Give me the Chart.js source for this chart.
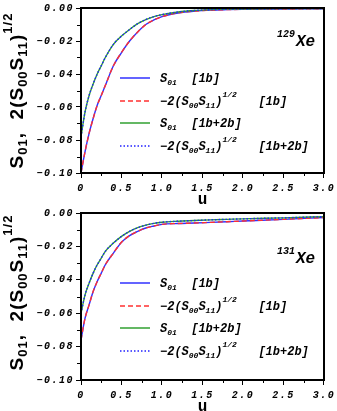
<!DOCTYPE html>
<html>
<head>
<meta charset="utf-8">
<script src="https://cdn.jsdelivr.net/npm/chart.js@4.4.0/dist/chart.umd.min.js"></script>
<style>
  html, body { margin: 0; padding: 0; background: #fff; }
  #wrap { position: relative; width: 337px; height: 411px; }
  canvas { position: absolute; left: 0; }
</style>
</head>
<body>
<div id="wrap">
  <canvas id="chartTop" width="337" height="205" style="top:0px"></canvas>
  <canvas id="chartBottom" width="337" height="206" style="top:205px"></canvas>
</div>
<script>
// momentum transfer u
const uValues = [0, 0.05, 0.1, 0.15, 0.2, 0.25, 0.3, 0.4, 0.5, 0.6, 0.7, 0.8, 0.9, 1.0, 1.2, 1.4, 1.6, 1.8, 2.0, 2.5, 3.0];

// 129Xe
const xe129S01_1b    = [-0.100, -0.087, -0.076, -0.067, -0.059, -0.053, -0.047, -0.035, -0.027, -0.020, -0.0145, -0.0100, -0.0072, -0.0052, -0.0030, -0.0019, -0.0013, -0.0010, -0.0008, -0.0006, -0.0005];
const xe129Sqrt_1b   = [-0.100, -0.087, -0.076, -0.067, -0.059, -0.053, -0.047, -0.035, -0.027, -0.020, -0.0145, -0.0100, -0.0072, -0.0052, -0.0030, -0.0019, -0.0013, -0.0010, -0.0008, -0.0006, -0.0005];
const xe129S01_12b   = [-0.078, -0.063, -0.053, -0.046, -0.040, -0.035, -0.030, -0.022, -0.017, -0.013, -0.0095, -0.0070, -0.0052, -0.0040, -0.0024, -0.0015, -0.0010, -0.0007, -0.0006, -0.0004, -0.0003];
const xe129Sqrt_12b  = [-0.078, -0.063, -0.053, -0.046, -0.040, -0.035, -0.030, -0.022, -0.017, -0.013, -0.0095, -0.0070, -0.0052, -0.0040, -0.0024, -0.0015, -0.0010, -0.0007, -0.0006, -0.0004, -0.0003];

// 131Xe
const xe131S01_1b    = [-0.076, -0.063, -0.055, -0.047, -0.041, -0.036, -0.031, -0.024, -0.0175, -0.0135, -0.0110, -0.0090, -0.0078, -0.0068, -0.0063, -0.0060, -0.0056, -0.0052, -0.0048, -0.0038, -0.0027];
const xe131Sqrt_1b   = [-0.076, -0.063, -0.055, -0.047, -0.041, -0.036, -0.031, -0.024, -0.0175, -0.0135, -0.0110, -0.0090, -0.0078, -0.0068, -0.0063, -0.0060, -0.0056, -0.0052, -0.0048, -0.0038, -0.0027];
const xe131S01_12b   = [-0.060, -0.049, -0.042, -0.036, -0.031, -0.027, -0.023, -0.018, -0.014, -0.011, -0.0088, -0.0073, -0.0062, -0.0055, -0.0049, -0.0045, -0.0041, -0.0038, -0.0035, -0.0029, -0.0022];
const xe131Sqrt_12b  = [-0.060, -0.049, -0.042, -0.036, -0.031, -0.027, -0.023, -0.018, -0.014, -0.011, -0.0088, -0.0073, -0.0062, -0.0055, -0.0049, -0.0045, -0.0041, -0.0038, -0.0035, -0.0029, -0.0022];

// axes
const yMin = -0.10, yMax = 0.00, yStep = 0.02, yMinorStep = 0.01;
const xMin = 0, xMax = 3.0, xStep = 0.5, xMinorStep = 0.25;

// legend texts (k: n = normal, sub, sup)
const legendLabels = [
  [{t: 'S'}, {t: '01', k: 'sub'}, {t: '  [1b]'}],
  [{t: '\u22122(S'}, {t: '00', k: 'sub'}, {t: 'S'}, {t: '11', k: 'sub'}, {t: ')'}, {t: '1/2', k: 'sup'}, {t: '   [1b]'}],
  [{t: 'S'}, {t: '01', k: 'sub'}, {t: '  [1b+2b]'}],
  [{t: '\u22122(S'}, {t: '00', k: 'sub'}, {t: 'S'}, {t: '11', k: 'sub'}, {t: ')'}, {t: '1/2', k: 'sup'}, {t: '   [1b+2b]'}]
];
const yTitle = [{t: 'S'}, {t: '01', k: 'sub'}, {t: ',  2(S'}, {t: '00', k: 'sub'}, {t: 'S'}, {t: '11', k: 'sub'}, {t: ')'}, {t: '1/2', k: 'sup'}];

const MONO = '"Liberation Mono", "Courier New", monospace';
const SANS = '"Liberation Sans", Arial, sans-serif';

function pts(ys) {
    return uValues.map((u, i) => ({x: u, y: ys[i]}));
}

function drawRich(ctx, parts, x, y, fonts) {
    for (const p of parts) {
        const f = fonts[p.k || 'n'];
        ctx.font = f.font;
        ctx.fillText(p.t, x, y + f.dy);
        x += ctx.measureText(p.t).width;
    }
    return x;
}
function richWidth(ctx, parts, fonts) {
    let w = 0;
    for (const p of parts) {
        ctx.font = fonts[p.k || 'n'].font;
        w += ctx.measureText(p.t).width;
    }
    return w;
}

const decorPlugin = {
    id: 'decor',
    beforeDraw(chart) {
        chart.ctx.letterSpacing = '1.5px';
    },
    afterDraw(chart, args, opts) {
        const ctx = chart.ctx;
        const a = chart.chartArea;
        const xs = chart.scales.x, ys = chart.scales.y;
        ctx.save();
        ctx.letterSpacing = '0px';
        ctx.strokeStyle = '#000';
        ctx.fillStyle = '#000';

        // minor ticks
        ctx.lineWidth = 1;
        ctx.beginPath();
        for (let v = yMin + yMinorStep; v < yMax; v += yStep) {
            const py = Math.round(ys.getPixelForValue(v)) + 0.5;
            ctx.moveTo(a.left - 4, py); ctx.lineTo(a.left, py);
        }
        for (let v = xMinorStep; v < xMax; v += xStep) {
            const px = Math.round(xs.getPixelForValue(v)) + 0.5;
            ctx.moveTo(px, a.bottom); ctx.lineTo(px, a.bottom + 3);
        }
        ctx.stroke();

        // frame
        ctx.lineWidth = 2;
        ctx.strokeRect(a.left, a.top, a.right - a.left, a.bottom - a.top);

        // legend, in dataset index order
        const lf = {
            n: {font: 'bold italic 12px ' + MONO, dy: 0},
            sub: {font: 'bold italic 8px ' + MONO, dy: 4},
            sup: {font: 'bold italic 8px ' + MONO, dy: -7}
        };
        ctx.textBaseline = 'middle';
        ctx.textAlign = 'left';
        chart.data.datasets.forEach((ds, i) => {
            const y = Math.round(a.top + 70 + i * 22.5);
            ctx.save();
            ctx.strokeStyle = ds.borderColor;
            ctx.lineWidth = 1.5;
            ctx.setLineDash(ds.borderDash || []);
            ctx.beginPath();
            ctx.moveTo(120, y);
            ctx.lineTo(150, y);
            ctx.stroke();
            ctx.restore();
            drawRich(ctx, legendLabels[i], 160, y + 1, lf);
        });

        // isotope label
        ctx.textBaseline = 'alphabetic';
        const iy = a.top + opts.isoOffset;
        ctx.font = 'bold italic 10px ' + MONO;
        ctx.fillText(opts.mass, 277, iy - 9);
        ctx.font = 'bold italic 16px ' + MONO;
        ctx.fillText('Xe', 296, iy);

        // x title
        ctx.font = 'bold 16px ' + MONO;
        ctx.textAlign = 'center';
        ctx.textBaseline = 'middle';
        ctx.fillText('u', (a.left + a.right) / 2, a.bottom + 27);

        // y title
        const tf = {
            n: {font: 'bold 19px ' + SANS, dy: 0},
            sub: {font: 'bold 13px ' + SANS, dy: 4},
            sup: {font: 'bold 13px ' + SANS, dy: -11}
        };
        ctx.textAlign = 'left';
        ctx.textBaseline = 'alphabetic';
        ctx.letterSpacing = '1px';
        const w = richWidth(ctx, yTitle, tf);
        const cy = (a.top + a.bottom) / 2 + opts.titleShift;
        ctx.translate(23, cy + w / 2);
        ctx.rotate(-Math.PI / 2);
        drawRich(ctx, yTitle, 0, 0, tf);
        ctx.restore();
    }
};

function makeChart(id, series, mass, topPad, isoOffset, titleShift) {
    const ctx = document.getElementById(id).getContext('2d');
    const canvasH = ctx.canvas.height;
    // lower "order" is drawn on top: dashed red over blue, dotted blue over green
    return new Chart(ctx, {
        type: 'line',
        data: {
            datasets: [
                {data: pts(series[0]), borderColor: '#3030ff', borderWidth: 1.4, order: 4},
                {data: pts(series[1]), borderColor: '#ff3030', borderWidth: 1.4, borderDash: [5, 3], order: 3},
                {data: pts(series[2]), borderColor: '#30a030', borderWidth: 1.4, order: 2},
                {data: pts(series[3]), borderColor: '#2020ff', borderWidth: 1.4, borderDash: [1.5, 2], order: 1}
            ]
        },
        options: {
            responsive: false,
            animation: false,
            events: [],
            layout: {padding: {top: topPad, right: 13, left: 0, bottom: 0}},
            elements: {
                point: {radius: 0},
                line: {cubicInterpolationMode: 'monotone', fill: false}
            },
            plugins: {
                legend: {display: false},
                tooltip: {enabled: false},
                decor: {mass: mass, isoOffset: isoOffset, titleShift: titleShift}
            },
            scales: {
                x: {
                    type: 'linear',
                    min: xMin, max: xMax,
                    afterFit: s => { s.height = canvasH - topPad - 168; },
                    border: {display: false},
                    grid: {display: true, drawOnChartArea: false, drawTicks: true, tickLength: 5, color: '#000', tickColor: '#000'},
                    ticks: {
                        stepSize: xStep,
                        padding: 4,
                        color: '#000',
                        maxRotation: 0,
                        font: {family: MONO, size: 10, style: 'italic', weight: 'bold'},
                        callback: v => v === 0 ? '0' : v.toFixed(1)
                    }
                },
                y: {
                    type: 'linear',
                    min: yMin, max: yMax,
                    afterFit: s => { s.width = 81; },
                    border: {display: false},
                    grid: {display: true, drawOnChartArea: false, drawTicks: true, tickLength: 5, color: '#000', tickColor: '#000'},
                    ticks: {
                        stepSize: yStep,
                        padding: 2,
                        color: '#000',
                        font: {family: MONO, size: 10, style: 'italic', weight: 'bold'},
                        callback: v => (Math.abs(v) < 1e-9 ? '0.00' : (v < 0 ? '\u2212' : '') + Math.abs(v).toFixed(2))
                    }
                }
            }
        },
        plugins: [decorPlugin]
    });
}

makeChart('chartTop', [xe129S01_1b, xe129Sqrt_1b, xe129S01_12b, xe129Sqrt_12b], '129', 5, 37.5, 0);
makeChart('chartBottom', [xe131S01_1b, xe131Sqrt_1b, xe131S01_12b, xe131Sqrt_12b], '131', 7, 50, -4);
</script>
</body>
</html>
